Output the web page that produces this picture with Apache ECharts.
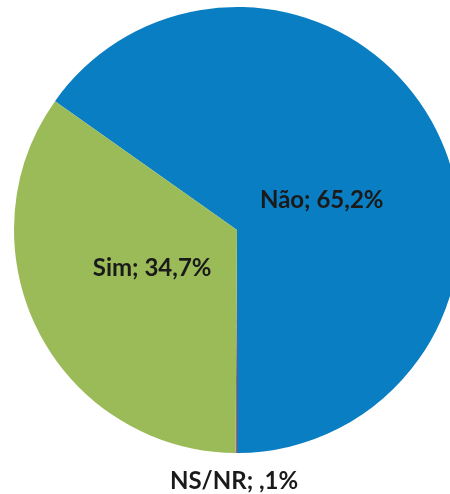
<!DOCTYPE html>
<html>
<head>
<meta charset="utf-8">
<script src="https://cdn.jsdelivr.net/npm/echarts@6/dist/echarts.min.js"></script>
<style>
  html, body { margin: 0; padding: 0; background: #fff; }
  #chart { width: 450px; height: 494px; }
</style>
</head>
<body>
<div id="chart"></div>
<script>
// respostas (ordem no sentido horário a partir do topo-esquerdo)
const categories = ['Não', 'NS/NR', 'Sim'];
const values = [65.2, 0.1, 34.7];
const colors = ['#0A7EC2', '#C0504D', '#9BBB59'];
// ajustes de posição dos rótulos (estilo do Excel)
const labelOffsets = [[-17, 23], [67, 16], [17, -14]];

const fmt = v => {
  let s = v.toFixed(1).replace('.', ',');
  if (s.startsWith('0,')) s = s.slice(1); // Excel mostra ",1%"
  return s + '%';
};

const myChart = echarts.init(document.getElementById('chart'));

const option = {
  animation: false,
  series: [
    {
      type: 'pie',
      center: [237, 230],
      radius: 223,
      startAngle: 144.7,
      clockwise: true,
      avoidLabelOverlap: false,
      itemStyle: { borderWidth: 0 },
      label: {
        position: 'inside',
        formatter: p => p.name + '; ' + fmt(p.value),
        fontFamily: 'Lato',
        fontWeight: 'bold',
        fontSize: 24,
        color: '#1a1a1a'
      },
      emphasis: { disabled: true },
      data: categories.map((name, i) => {
        const item = {
          name: name,
          value: values[i],
          itemStyle: { color: colors[i] },
          label: { offset: labelOffsets[i] }
        };
        if (name === 'NS/NR') {
          item.label = {
            position: 'outside',
            offset: labelOffsets[i]
          };
          item.labelLine = { show: false, length: 12, length2: 0 };
        }
        return item;
      })
    }
  ]
};

myChart.setOption(option);
</script>
</body>
</html>
